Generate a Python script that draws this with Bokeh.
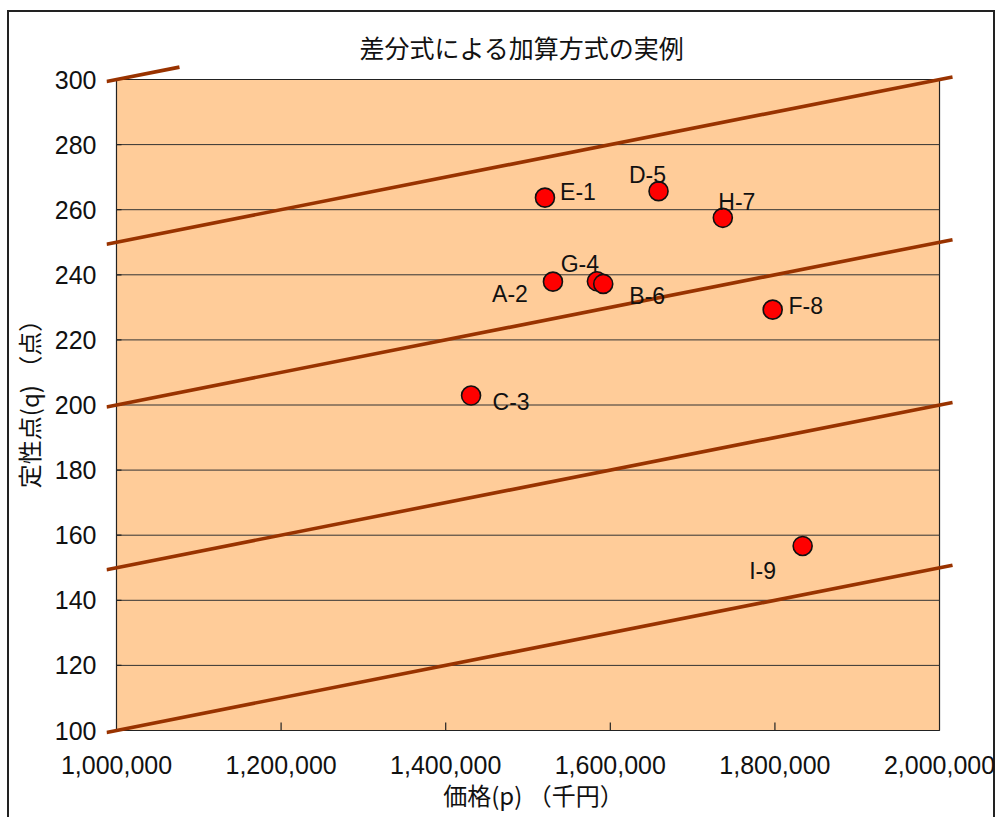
from bokeh.plotting import figure
from bokeh.models import FixedTicker, NumeralTickFormatter, Range1d, ColumnDataSource
from bokeh.core.properties import value
from bokeh.embed import file_html
from bokeh.resources import INLINE

# Products: price (p, thousand yen) and qualitative score (q, points)
names = ["E-1", "A-2", "C-3", "G-4", "D-5", "B-6", "H-7", "F-8", "I-9"]
price = [1520600, 1530300, 1430800, 1583700, 1658600, 1591400, 1736700, 1797300, 1833700]
score = [263.7, 237.9, 202.9, 238.0, 265.7, 237.2, 257.5, 229.3, 156.7]

# Label placement around each marker, screen pixels
label_dx = [33, -43, 40, -17, -11, 44, 14, 33, -40]
label_dy = [-6, 12, 6, -17, -16, 12, -16, -4, 25]

# Equal-value lines (50 points per 1,000,000), start and end points
line_x0 = [987900, 987900, 987900, 987900, 987900]
line_x1 = [2015800, 2015800, 2015800, 2015800, 1076500]
line_y0 = [99.4, 149.4, 199.4, 249.4, 299.4]
line_y1 = [150.8, 200.8, 250.8, 300.8, 303.8]

x_ticks = [1000000, 1200000, 1400000, 1600000, 1800000, 2000000]
y_ticks = [100, 120, 140, 160, 180, 200, 220, 240, 260, 280, 300]

title_text = "差分式による加算方式の実例"
x_label = "価格(p) （千円）"
y_label = "定性点(q) （点）"

CJK = "Noto Sans CJK JP"
LATIN = "Liberation Sans"

x_lo, x_hi = x_ticks[0], x_ticks[-1]
y_lo, y_hi = y_ticks[0], y_ticks[-1]

# frame is a little larger than the plot area so the lines can run past it
px_per_x = 824 / (x_hi - x_lo)
px_per_y = 651 / (y_hi - y_lo)

p = figure(
    width=988, height=807,
    x_range=Range1d(x_lo - 10 / px_per_x, x_lo + 845 / px_per_x),
    y_range=Range1d(y_lo - 5 / px_per_y, y_hi + 19 / px_per_y),
    output_backend="svg", toolbar_location=None,
    min_border_left=98, min_border_right=35, min_border_top=50, min_border_bottom=82,
)
p.margin = (10, 0, 0, 7)
p.styles = {"box-shadow": "inset 2px 2px 0 #222, inset -2px 0 0 #222"}
p.border_fill_color = None
p.background_fill_color = None
p.outline_line_color = None
p.grid.visible = False

p.title.text = title_text
p.title.align = "left"
p.title.offset = 253
p.title.standoff = -8
p.title.text_font = CJK
p.title.text_font_size = "25px"
p.title.text_font_style = "normal"
p.title.text_color = "#111"

for ax in (p.xaxis[0], p.yaxis[0]):
    ax.axis_line_color = None
    ax.major_tick_line_color = None
    ax.minor_tick_line_color = None
    ax.major_tick_out = 0
    ax.major_label_text_font = LATIN
    ax.major_label_text_font_size = "25px"
    ax.major_label_text_color = "#111"
    ax.axis_label_text_font = CJK
    ax.axis_label_text_font_size = "24px"
    ax.axis_label_text_font_style = "normal"
    ax.axis_label_text_color = "#111"

p.xaxis.ticker = FixedTicker(ticks=x_ticks)
p.xaxis.formatter = NumeralTickFormatter(format="0,0")
p.xaxis.major_label_standoff = 20
p.xaxis.axis_label = x_label
p.xaxis.axis_label_standoff = 0

p.yaxis.ticker = FixedTicker(ticks=y_ticks)
p.yaxis.major_label_standoff = 10
p.yaxis.axis_label = y_label
p.yaxis.axis_label_standoff = 6

# plot area
p.quad(left=[x_lo], right=[x_hi], bottom=[y_lo], top=[y_hi],
       fill_color="#FFCC99", line_color="#222", line_width=1.2)

# horizontal gridlines
grid_y = y_ticks[1:-1]
p.segment(x0=[x_lo] * len(grid_y), x1=[x_hi] * len(grid_y), y0=grid_y, y1=grid_y,
          line_color="#333", line_width=1)

# inward tick marks
p.ray(x=x_ticks[1:-1], y=[y_lo] * (len(x_ticks) - 2), length=8, angle=1.5707963,
      length_units="screen", line_color="#222", line_width=1.2)
p.ray(x=[x_lo] * (len(y_ticks) - 2), y=y_ticks[1:-1], length=5, angle=0,
      length_units="screen", line_color="#222", line_width=1.2)

# equal-value lines
p.segment(x0=line_x0, y0=line_y0, x1=line_x1, y1=line_y1,
          line_color="#993300", line_width=3.6)

src = ColumnDataSource(dict(x=price, y=score, name=names, dx=label_dx, dy=label_dy))
p.scatter("x", "y", source=src, size=19, fill_color="#FF0000",
          line_color="#111", line_width=1.6)
p.text("x", "y", text="name", source=src, x_offset="dx", y_offset="dy",
       text_align="center", text_baseline="middle", text_font=value(LATIN),
       text_font_size="23px", text_color="#111")

open("out.html", "w").write(file_html(p, INLINE))
